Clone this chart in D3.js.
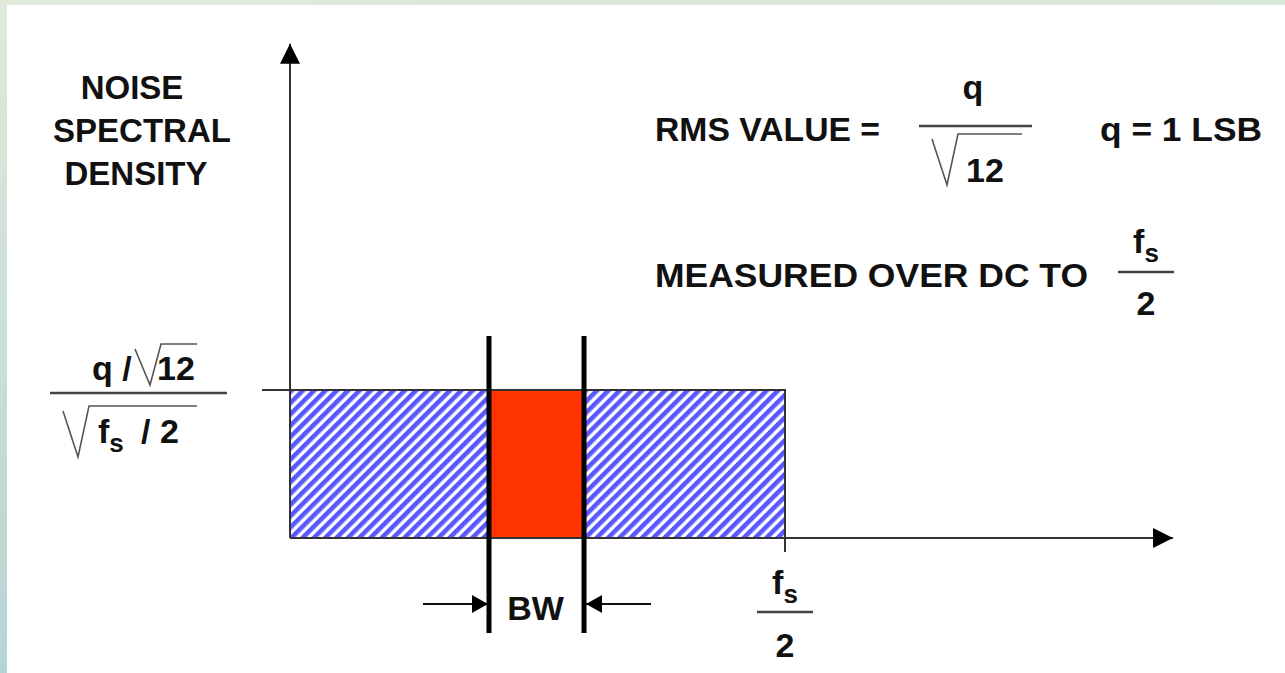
<!DOCTYPE html>
<html lang="en">
  <head>
    <meta charset="UTF-8" />
    <title>Quantization noise spectrum</title>
    <script src="https://cdn.jsdelivr.net/npm/d3@7"></script>
    <style>
      body { margin: 0; overflow: hidden; }
      svg { display: block; }
      text { font-family: "Liberation Sans", Arial, sans-serif; font-weight: bold; fill: #111; }
    </style>
  </head>
  <body>
    <svg width="1285" height="673"></svg>
    <script>
      // frequency axis normalised so that fs/2 = 1, density normalised so that q/sqrt(12)/sqrt(fs/2) = 1
      const bandNames = ["noise", "bw", "noise"];
      const bandStart = [0, 0.402, 0.594];
      const bandEnd = [0.402, 0.594, 1];
      const density = 1;
      const xMax = 1.784; // where the frequency arrow stops
      const yMax = 3.34;
      const yLabelLines = ["NOISE", "SPECTRAL", "DENSITY"];
      const yLabelCenters = [132, 142, 136];
      const rmsText = "RMS VALUE =";
      const lsbText = "q = 1 LSB";
      const measuredText = "MEASURED OVER DC TO";
      const bwText = "BW";

      const svg = d3.select("svg");
      const x = d3.scaleLinear().domain([0, 1]).range([290, 785]);
      const y = d3.scaleLinear().domain([0, 1]).range([538, 390]);

      const defs = svg.append("defs");
      const bg = defs.append("linearGradient").attr("id", "bg")
        .attr("x1", 0).attr("y1", 0).attr("x2", 0.15).attr("y2", 1);
      bg.append("stop").attr("offset", 0).attr("stop-color", "#dfeadb");
      bg.append("stop").attr("offset", 1).attr("stop-color", "#b4d4d2");
      const hatch = defs.append("pattern").attr("id", "hatch")
        .attr("patternUnits", "userSpaceOnUse")
        .attr("width", 8).attr("height", 8)
        .attr("patternTransform", "rotate(45)");
      hatch.append("rect").attr("width", 8).attr("height", 8).attr("fill", "#fff");
      hatch.append("rect").attr("width", 4.6).attr("height", 8).attr("fill", "#5858ff");
      const arrow = defs.append("marker").attr("id", "arr")
        .attr("viewBox", "0 0 20 20").attr("refX", 20).attr("refY", 10)
        .attr("markerWidth", 20).attr("markerHeight", 20)
        .attr("markerUnits", "userSpaceOnUse").attr("orient", "auto");
      arrow.append("path").attr("d", "M0,0L20,10L0,20Z").attr("fill", "#000");
      const smallArrow = defs.append("marker").attr("id", "sarr")
        .attr("viewBox", "0 0 16 18").attr("refX", 16).attr("refY", 9)
        .attr("markerWidth", 16).attr("markerHeight", 18)
        .attr("markerUnits", "userSpaceOnUse").attr("orient", "auto");
      smallArrow.append("path").attr("d", "M0,0L16,9L0,18Z").attr("fill", "#000");

      // slide background and white panel
      svg.append("rect").attr("width", 1285).attr("height", 673).attr("fill", "url(#bg)");
      svg.append("rect").attr("x", 7).attr("y", 5).attr("width", 1278).attr("height", 668).attr("fill", "#fff");

      // bands
      svg.selectAll("rect.band")
        .data(bandNames.map((n, i) => ({ name: n, x0: bandStart[i], x1: bandEnd[i] })))
        .enter().append("rect").attr("class", "band")
        .attr("x", d => x(d.x0)).attr("y", y(density))
        .attr("width", d => x(d.x1) - x(d.x0)).attr("height", y(0) - y(density))
        .attr("fill", d => d.name === "bw" ? "#ff3300" : "url(#hatch)");

      // outline of the noise floor
      svg.append("path")
        .attr("d", `M${x(0) - 28},${y(density)}H${x(1)}V${y(0)}`)
        .attr("fill", "none").attr("stroke", "#333").attr("stroke-width", 2);

      // axes
      svg.append("line").attr("x1", x(0)).attr("y1", y(0)).attr("x2", x(0)).attr("y2", y(yMax))
        .attr("stroke", "#333").attr("stroke-width", 2).attr("marker-end", "url(#arr)");
      svg.append("line").attr("x1", x(0)).attr("y1", y(0)).attr("x2", x(xMax)).attr("y2", y(0))
        .attr("stroke", "#333").attr("stroke-width", 2).attr("marker-end", "url(#arr)");
      svg.append("line").attr("x1", x(1)).attr("y1", y(0)).attr("x2", x(1)).attr("y2", y(0) + 14)
        .attr("stroke", "#333").attr("stroke-width", 2);

      // BW edges
      svg.selectAll("line.edge").data([bandStart[1], bandEnd[1]]).enter()
        .append("line").attr("class", "edge")
        .attr("x1", d => x(d)).attr("x2", d => x(d))
        .attr("y1", 336).attr("y2", 633)
        .attr("stroke", "#000").attr("stroke-width", 5);
      svg.append("line").attr("x1", x(bandStart[1]) - 66).attr("x2", x(bandStart[1]) - 1)
        .attr("y1", 604).attr("y2", 604).attr("stroke", "#111").attr("stroke-width", 2)
        .attr("marker-end", "url(#sarr)");
      svg.append("line").attr("x1", x(bandEnd[1]) + 67).attr("x2", x(bandEnd[1]) + 2)
        .attr("y1", 604).attr("y2", 604).attr("stroke", "#111").attr("stroke-width", 2)
        .attr("marker-end", "url(#sarr)");
      svg.append("text").attr("x", x((bandStart[1] + bandEnd[1]) / 2) - 1).attr("y", 620)
        .attr("text-anchor", "middle").attr("font-size", 34).text(bwText);

      // helpers for the little formulas
      function fs(g, x0, base, anchor) {
        const t = g.append("text").attr("x", x0).attr("y", base).attr("font-size", 34)
          .attr("text-anchor", anchor || "middle");
        t.append("tspan").text("f");
        t.append("tspan").attr("font-size", 26).attr("dy", 9).text("s");
        return t;
      }
      function radical(x0, yTop, yBot, x1) {
        svg.append("path")
          .attr("d", `M${x0},${yTop + 5}L${x0 + 15},${yBot}L${x0 + 26},${yTop}H${x1}`)
          .attr("fill", "none").attr("stroke", "#555").attr("stroke-width", 1.6);
      }
      function fsOver2(cx, fBase, lineY, twoBase, halfW) {
        fs(svg, cx, fBase);
        svg.append("line").attr("x1", cx - halfW).attr("x2", cx + halfW).attr("y1", lineY).attr("y2", lineY)
          .attr("stroke", "#444").attr("stroke-width", 2.5);
        svg.append("text").attr("x", cx).attr("y", twoBase).attr("text-anchor", "middle")
          .attr("font-size", 34).text("2");
      }

      // y label
      svg.selectAll("text.ylab").data(yLabelLines).enter().append("text").attr("class", "ylab")
        .attr("x", (d, i) => yLabelCenters[i]).attr("y", (d, i) => 99 + i * 43)
        .attr("text-anchor", "middle").attr("font-size", 33).text(d => d);

      // density level label: (q/sqrt12) / sqrt(fs/2)
      svg.append("text").attr("x", 92).attr("y", 380).attr("font-size", 34).text("q /");
      radical(135, 344, 385, 197);
      svg.append("text").attr("x", 157).attr("y", 380).attr("font-size", 34).text("12");
      svg.append("line").attr("x1", 50).attr("x2", 227).attr("y1", 393).attr("y2", 393)
        .attr("stroke", "#444").attr("stroke-width", 2.5);
      radical(63, 406, 457, 197);
      fs(svg, 98, 443, "start");
      svg.append("text").attr("x", 141).attr("y", 443).attr("font-size", 34).text("/ 2");

      // RMS value
      svg.append("text").attr("x", 655).attr("y", 141).attr("font-size", 34)
        .attr("textLength", 225).attr("lengthAdjust", "spacingAndGlyphs").text(rmsText);
      svg.append("text").attr("x", 973).attr("y", 99).attr("text-anchor", "middle").attr("font-size", 34).text("q");
      svg.append("line").attr("x1", 919).attr("x2", 1032).attr("y1", 126).attr("y2", 126)
        .attr("stroke", "#444").attr("stroke-width", 2.5);
      radical(932, 134, 185, 1022);
      svg.append("text").attr("x", 966).attr("y", 182).attr("font-size", 34).text("12");
      svg.append("text").attr("x", 1100).attr("y", 141).attr("font-size", 34)
        .attr("textLength", 162).attr("lengthAdjust", "spacingAndGlyphs").text(lsbText);

      svg.append("text").attr("x", 655).attr("y", 287).attr("font-size", 34)
        .attr("textLength", 433).attr("lengthAdjust", "spacingAndGlyphs").text(measuredText);
      fsOver2(1146, 253, 272, 315, 28);

      // fs/2 under the axis
      fsOver2(785, 594, 612, 657, 28);
    </script>
  </body>
</html>
